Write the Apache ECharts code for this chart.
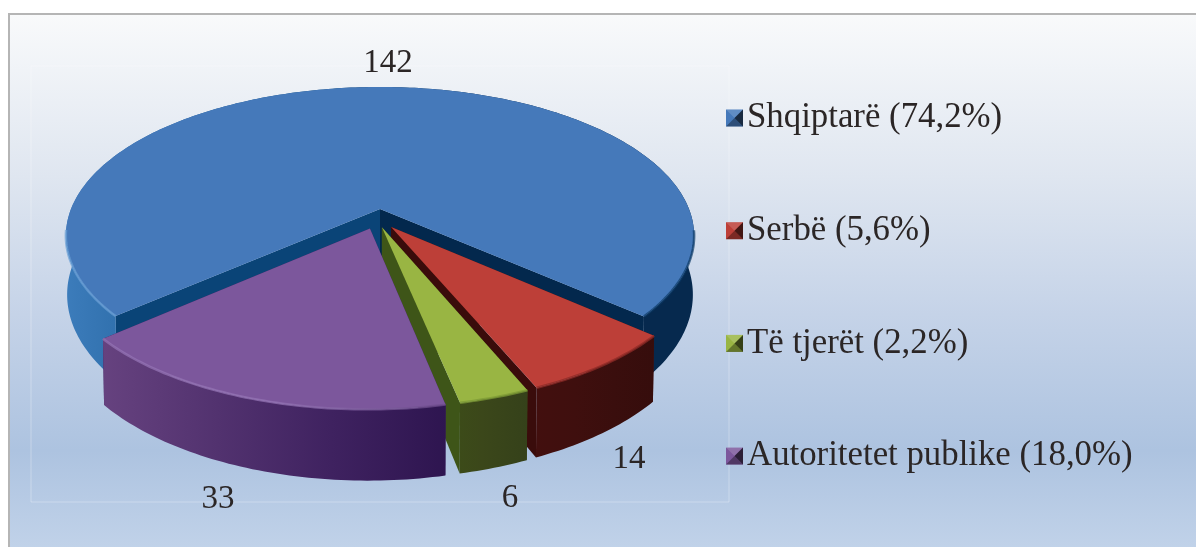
<!DOCTYPE html>
<html>
<head>
<meta charset="utf-8">
<script src="https://cdn.jsdelivr.net/npm/echarts@6/dist/echarts.min.js"></script>
<style>
html,body{margin:0;padding:0;background:#fff;}
#chart{width:1196px;height:547px;}
</style>
</head>
<body>
<div id="chart"></div>
<script>
// values
var categories=['Shqiptarë (74,2%)','Serbë (5,6%)','Të tjerët (2,2%)','Autoritetet publike (18,0%)'];
var values=[142,14,6,33];
var firstSliceAngle=229;

// pie look, per slice
var topColors=['#4579ba','#bd3f38','#99b543','#7c579c'];
var cutStart=['#0a4477','#4a1210','#3e5518','#3a1f5c'];
var cutEnd=['#03284d','#3a0c0b','#3e5518','#3a1f5c'];
var rimStops=[['#3c7cbb','#0f4f86','#06294e','#06294e'],['#420f0e','#3f0f0e','#3a0e0d','#360d0c'],['#3c4b19','#3b471a','#38441a','#35411a'],['#66427f','#52326f','#3f2260','#2e1550']];
var edgeColors=[['#6a9fd6','#6a9fd6','#0d3a66'],['#8e2a26','#8e2a26','#8e2a26'],['#7d9a35','#7d9a35','#7d9a35'],['#9473b4','#9473b4','#6b4a8a']];
var explodeX=[0,0.06,0.02,0.1];
var explodeY=[0,0.15,0.13,0.14];
var radius=[1,0.97,0.98,0.98];
var labelPos=[[388,63],[629,459],[510,498],[218,499]];

var cx=380,cy=209,rx=309,ry=144,persp=0.18,depth=57,taper=0.996;
var total=values.reduce(function(a,b){return a+b;},0);

function sliceAngles(i){
	var sum=0;
	for(var j=0;j<i;j++){sum+=values[j];}
	return [firstSliceAngle+sum/total*360,firstSliceAngle+(sum+values[i])/total*360];
}
// point on the disc -> screen, bottom=true gives the lower face
function project(i,deg,r,bottom){
	var a=sliceAngles(i);
	var mid=(a[0]+a[1])/2*Math.PI/180;
	var t=deg*Math.PI/180;
	var u=r*radius[i]*Math.sin(t)+explodeX[i]*Math.sin(mid);
	var v=-r*radius[i]*Math.cos(t)-explodeY[i]*Math.cos(mid);
	if(i==0){u=r*Math.sin(t);v=-r*Math.cos(t);}
	var w=1-persp*v;
	var x=rx*u/w,y=ry*v/w;
	if(bottom){x=x*taper;y=y+depth/w;}
	return [cx+x,cy+y];
}
function arc(i,from,to,bottom){
	var pts=[],n=Math.max(8,Math.ceil(Math.abs(to-from)));
	for(var k=0;k<=n;k++){pts.push(project(i,from+(to-from)*k/n,1,bottom));}
	return pts;
}
function gradient(stops){
	var list=[];
	for(var k=0;k<stops.length;k++){list.push({offset:k/(stops.length-1),color:stops[k]});}
	return new echarts.graphic.LinearGradient(0,0,1,0,list);
}
// highlight only on the front part of the rim, the back has none
function edgeLines(i,top){
	var parts=[],cur=[];
	top.forEach(function(p){
		if(p[1]>cy+20){cur.push(p);}
		else if(cur.length){parts.push(cur);cur=[];}
	});
	if(cur.length){parts.push(cur);}
	return parts.map(function(pts){
		var mx=pts[Math.floor(pts.length/2)][0];
		var col=edgeColors[i][mx<cx?0:2];
		if(i>0){return {type:'polyline',shape:{points:pts},style:{fill:null,stroke:gradient(edgeColors[i]),lineWidth:2.5,opacity:0.75}};}
		return {type:'polyline',shape:{points:pts},style:{fill:null,stroke:col,lineWidth:2.5,opacity:0.7}};
	});
}
function renderSlice(params,api){
	var i=params.seriesIndex;
	var a=sliceAngles(i);
	var top=arc(i,a[0],a[1],false);
	var bot=arc(i,a[0],a[1],true);
	var apexT=project(i,0,0,false),apexB=project(i,0,0,true);
	var wall=top.concat(bot.slice().reverse());
	var cut1=[apexT,top[0],bot[0],apexB];
	var cut2=[apexT,top[top.length-1],bot[bot.length-1],apexB];
	var children=[
		{type:'polygon',shape:{points:cut1},style:{fill:cutStart[i]}},
		{type:'polygon',shape:{points:cut2},style:{fill:cutEnd[i]}},
		{type:'polygon',shape:{points:wall},style:{fill:gradient(rimStops[i])}},
		{type:'polygon',shape:{points:[apexT].concat(top)},style:{fill:topColors[i]}}
	].concat(edgeLines(i,top));
	children.push({type:'text',style:{text:String(api.value(0)),x:labelPos[i][0],y:labelPos[i][1],fill:'#2b2626',font:'33px "Liberation Serif"',align:'center',verticalAlign:'middle'}});
	return {type:'group',children:children};
}

var series=[];
for(var i=0;i<values.length;i++){
	series.push({
		name:categories[i],
		type:'custom',
		coordinateSystem:'none',
		renderItem:renderSlice,
		data:[[values[i]]],
		itemStyle:{color:topColors[i]},
		silent:true
	});
}

// bevel on the legend keys
var legendX=726,legendY=[118,230.7,343.4,456.1],key=17;
var graphics=[
	{type:'rect',z:-10,shape:{x:9,y:14,width:1200,height:545},style:{stroke:'#b5b5b5',lineWidth:2,fill:new echarts.graphic.LinearGradient(0,0,0,1,[
		{offset:0,color:'#f9fafb'},{offset:0.3,color:'#dfe6f0'},{offset:0.55,color:'#c5d3e8'},{offset:0.8,color:'#adc3e0'},{offset:1,color:'#c3d4ea'}
	])}},
	{type:'rect',z:-9,shape:{x:31,y:66,width:698,height:436},style:{stroke:'rgba(255,255,255,0.3)',lineWidth:1,fill:null}}
];
legendY.forEach(function(y){
	var x0=legendX,x1=legendX+key,y0=y-key/2,y1=y+key/2,mx=legendX+key/2;
	graphics.push({type:'polygon',z:20,shape:{points:[[x0,y0],[x1,y0],[mx,y]]},style:{fill:'rgba(255,255,255,0.15)'}});
	graphics.push({type:'polygon',z:20,shape:{points:[[x1,y0],[x1,y1],[mx,y]]},style:{fill:'rgba(0,0,0,0.65)'}});
	graphics.push({type:'polygon',z:20,shape:{points:[[x0,y1],[x1,y1],[mx,y]]},style:{fill:'rgba(0,0,0,0.35)'}});
});

var chart=echarts.init(document.getElementById('chart'));
var option={
	animation:false,
	legend:{
		orient:'vertical',
		left:legendX,
		top:96,
		icon:'rect',
		itemWidth:key,
		itemHeight:key,
		itemGap:68.7,
		padding:0,
		selectedMode:false,
		data:categories,
		textStyle:{color:'#2b2626',fontSize:34.8,lineHeight:40,fontFamily:'"Liberation Serif"',padding:[4,0,0,-1]}
	},
	graphic:graphics,
	series:series
};
chart.setOption(option);
</script>
</body>
</html>
